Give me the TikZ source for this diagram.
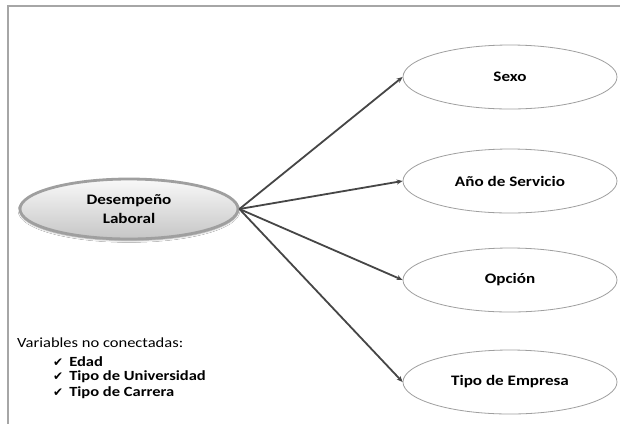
\documentclass[tikz,border=0pt]{standalone}
\usepackage{fontspec}
\setmainfont{Carlito}[FakeStretch=1.18]
\newfontfamily\symfont{DejaVu Sans}
\usetikzlibrary{shapes.geometric,arrows.meta,shadows.blur}
\tikzset{
  target/.style={ellipse, draw=gray!75, line width=0.8pt, minimum width=214pt, minimum height=64pt, inner sep=0pt, font=\fontsize{14.5}{16}\selectfont\bfseries},
  mainnode/.style={ellipse, draw=gray!75, line width=2.8pt, top color=gray!5, bottom color=gray!45, minimum width=218pt, minimum height=60pt, inner sep=0pt, align=center, font=\fontsize{14.5}{19}\selectfont\bfseries, blur shadow={shadow xshift=0pt, shadow yshift=-1.5pt, shadow blur steps=6}},
  link/.style={draw=gray!55!black, line width=1.8pt, -{Stealth[length=6pt,width=5pt]}},
  frameline/.style={draw=gray!70, line width=2pt},
  listtext/.style={anchor=west, font=\fontsize{14}{16}\selectfont, inner sep=0pt}
}
\newcommand{\chk}{{\symfont\fontsize{12}{14}\selectfont ✔}\hspace{6pt}}
\begin{document}
\begin{tikzpicture}[x=1pt,y=-1pt]
\useasboundingbox[fill=white] (0,0) rectangle (620,424);
\coordinate (ftl) at (8,6);
\coordinate (ftr) at (620,6);
\coordinate (fbl) at (8,424);
\draw[frameline] (ftr) -- (ftl) -- (fbl);
\node[mainnode] (dl) at (129,209) {Desempeño\\Laboral};
\node[target] (sx) at (510,77) {Sexo};
\node[target] (as) at (510,181) {Año de Servicio};
\node[target] (op) at (510,280) {Opción};
\node[target] (te) at (510,382) {Tipo de Empresa};
\foreach \t in {sx,as,op,te} \draw[link] (dl.east) -- (\t.west);
\node[listtext] (vn) at (17,343) {Variables no conectadas:};
\node[listtext] (e1) at (53,362) {\chk\textbf{Edad}};
\node[listtext] (e2) at (53,377) {\chk\textbf{Tipo de Universidad}};
\node[listtext] (e3) at (53,393) {\chk\textbf{Tipo de Carrera}};
\end{tikzpicture}
\end{document}
